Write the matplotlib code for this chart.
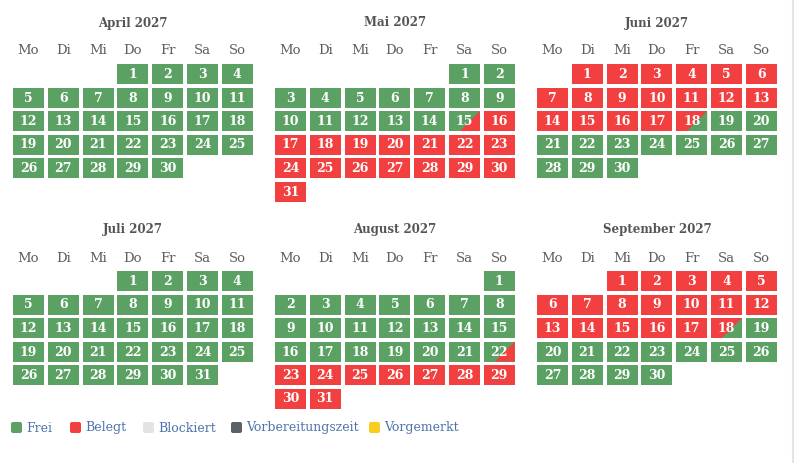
import calendar
from datetime import date

import matplotlib
matplotlib.use("Agg")
import matplotlib.pyplot as plt
from matplotlib.patches import Rectangle, Polygon, FancyBboxPatch

# Daten
months = [(2027, 4), (2027, 5), (2027, 6), (2027, 7), (2027, 8), (2027, 9)]
month_names = ["April", "Mai", "Juni", "Juli", "August", "September"]
weekdays = ["Mo", "Di", "Mi", "Do", "Fr", "Sa", "So"]

# Buchungen: (Anreise, Abreise)
bookings = [
    (date(2027, 5, 15), date(2027, 6, 18)),
    (date(2027, 8, 22), date(2027, 9, 18)),
]

legend_labels = ["Frei", "Belegt", "Blockiert", "Vorbereitungszeit", "Vorgemerkt"]
legend_colors = ["#5aa163", "#f23f3f", "#e3e3e3", "#5b6166", "#f8cd1c"]

GREEN = legend_colors[0]
RED = legend_colors[1]

# Layout (Pixel)
W, H = 794, 463
cell_w, cell_h = 31, 20
col_step, row_step = 34.8, 23.5
month_x = [13, 275, 537]
month_y = [64, 271]
FONT = "DejaVu Serif"


def day_status(d):
    for a, b in bookings:
        if d == a:
            return "anreise"
        if d == b:
            return "abreise"
        if a < d < b:
            return "belegt"
    return "frei"


fig = plt.figure(figsize=(W / 100, H / 100), dpi=100)
ax = fig.add_axes([0, 0, 1, 1])
ax.set_xlim(0, W)
ax.set_ylim(H, 0)
ax.axis("off")

for i, (year, month) in enumerate(months):
    ox = month_x[i % 3]
    oy = month_y[i // 3]
    block_w = 6 * col_step + cell_w

    # Monatstitel
    ax.text(ox + block_w / 2, oy - 41, f"{month_names[i]} {year}",
            ha="center", va="center", fontsize=8.5, fontweight="bold",
            color="#555555", family=FONT)

    # Wochentage
    for k, wd in enumerate(weekdays):
        ax.text(ox + k * col_step + cell_w / 2, oy - 13, wd,
                ha="center", va="center", fontsize=9.5, color="#5e5e5e",
                family=FONT)

    first_wd, ndays = calendar.monthrange(year, month)
    for day in range(1, ndays + 1):
        idx = first_wd + day - 1
        x = ox + (idx % 7) * col_step
        y = oy + (idx // 7) * row_step
        status = day_status(date(year, month, day))

        base = RED if status in ("belegt", "abreise") else GREEN
        ax.add_patch(Rectangle((x, y), cell_w, cell_h, facecolor=base,
                               edgecolor="none"))
        if status in ("anreise", "abreise"):
            tri = RED if status == "anreise" else GREEN
            ax.add_patch(Polygon([(x + cell_w - cell_h, y + cell_h),
                                  (x + cell_w, y),
                                  (x + cell_w, y + cell_h)],
                                 closed=True, facecolor=tri, edgecolor="none"))

        ax.text(x + cell_w / 2, y + cell_h / 2 + 0.5, str(day),
                ha="center", va="center", fontsize=9, fontweight="bold",
                color="white", family=FONT)

# Legende
legend_x = [11, 70, 143, 231, 369]
for lx, lab, col in zip(legend_x, legend_labels, legend_colors):
    ax.add_patch(FancyBboxPatch((lx, 422), 11, 11,
                                boxstyle="round,pad=0,rounding_size=2",
                                facecolor=col, edgecolor="none"))
    ax.text(lx + 15, 428, lab, ha="left", va="center", fontsize=9,
            color="#4d74ad", family=FONT)

# rechter Rand
ax.plot([792.5, 792.5], [0, H], color="#e4e4e4", lw=1.5)

fig.savefig("out.png", dpi=100)
